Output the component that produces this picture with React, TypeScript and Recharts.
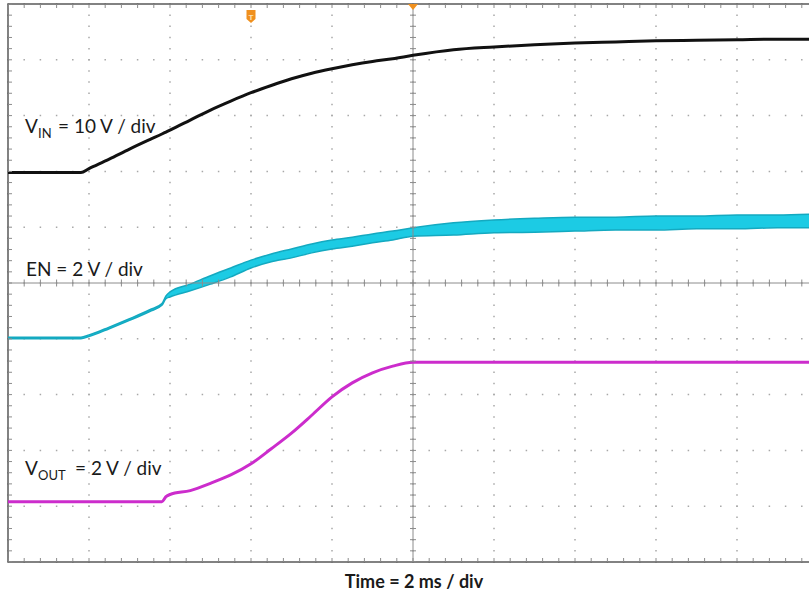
import React from 'react';
import {
  ComposedChart,
  Line,
  Area,
  Scatter,
  XAxis,
  YAxis,
  CartesianGrid,
  ReferenceLine,
  ReferenceArea,
  ReferenceDot,
} from 'recharts';

// time in ms (2 ms / div, 10 divisions), values in screen divisions
const time = [0, 1, 1.8, 2, 2.5, 3, 3.5, 3.8, 3.9, 4, 4.5, 5, 5.5, 6, 6.5, 7, 7.5, 8, 8.5, 9, 9.5, 10, 11, 12, 13, 14, 15, 16, 17, 18, 19, 20];

const vin = [6.98, 6.98, 6.98, 7.05, 7.22, 7.4, 7.57, 7.67, 7.705, 7.74, 7.92, 8.1, 8.26, 8.41, 8.54, 8.66, 8.76, 8.84, 8.91, 8.97, 9.02, 9.08, 9.18, 9.23, 9.27, 9.3, 9.32, 9.34, 9.35, 9.36, 9.37, 9.37];

const enLow = [4.0, 4.0, 4.0, 4.04, 4.18, 4.33, 4.49, 4.6, 4.72, 4.75, 4.86, 4.98, 5.11, 5.27, 5.38, 5.45, 5.54, 5.61, 5.66, 5.72, 5.77, 5.84, 5.86, 5.9, 5.91, 5.93, 5.95, 5.95, 5.97, 5.97, 5.99, 5.99];
const enHigh = [4.03, 4.03, 4.03, 4.07, 4.21, 4.36, 4.52, 4.63, 4.77, 4.84, 4.98, 5.13, 5.27, 5.41, 5.52, 5.61, 5.7, 5.77, 5.82, 5.88, 5.93, 5.99, 6.08, 6.13, 6.16, 6.18, 6.18, 6.2, 6.2, 6.22, 6.22, 6.24];

const vout = [1.08, 1.08, 1.08, 1.08, 1.08, 1.08, 1.08, 1.08, 1.17, 1.21, 1.28, 1.41, 1.56, 1.76, 2.03, 2.31, 2.63, 2.96, 3.21, 3.39, 3.51, 3.58, 3.58, 3.58, 3.58, 3.58, 3.58, 3.58, 3.58, 3.58, 3.58, 3.58];

const xTicks = [0, 2, 4, 6, 8, 10, 12, 14, 16, 18, 20];
const yTicks = [0, 1, 2, 3, 4, 5, 6, 7, 8, 9, 10];

const triggerTime = 6;

const rows = time.map((t, i) => ({ t, vin: vin[i], en: [enLow[i], enHigh[i]], vout: vout[i] }));

// graticule minor ticks (5 per division)
const minorX = Array.from({ length: 51 }, (_, i) => +(i * 0.4).toFixed(2));
const minorY = Array.from({ length: 51 }, (_, i) => +(i * 0.2).toFixed(2));

const GRID = '#8c8c8c';

const tickV = (len: number, dir: number) => (p: any) => (
  <line x1={p.cx} x2={p.cx} y1={dir === 0 ? p.cy - len : p.cy} y2={p.cy + (dir === 0 ? len : dir * len)} stroke={GRID} strokeWidth={1} />
);
const tickH = (len: number, dir: number) => (p: any) => (
  <line y1={p.cy} y2={p.cy} x1={dir === 0 ? p.cx - len : p.cx} x2={p.cx + (dir === 0 ? len : dir * len)} stroke={GRID} strokeWidth={1} />
);

const TriggerMark = (p: any) => (
  <g>
    <path d={`M${p.cx - 4.5} ${p.cy + 6} h9 v9 l-4.5 4 l-4.5 -4 z`} fill="#f0901e" />
    <text x={p.cx} y={p.cy + 16} fontSize={8} fontFamily="Roboto" fontWeight="bold" fill="#fde2b8" textAnchor="middle">T</text>
  </g>
);
const PositionMark = (p: any) => (
  <path d={`M${p.cx - 5} ${p.cy} h10 l-5 6 z`} fill="#f0901e" />
);

export default function App() {
  return (
    <div style={{ position: 'absolute', left: 0, top: 0, width: 809, height: 598, overflow: 'hidden', background: '#fff' }}>
      <ComposedChart width={822} height={598} data={rows} margin={{ top: 4, right: 4, bottom: 36, left: 8 }}>
        <XAxis dataKey="t" type="number" domain={[0, 20]} ticks={xTicks} allowDataOverflow hide />
        <YAxis type="number" domain={[0, 10]} ticks={yTicks} allowDataOverflow hide />
        <CartesianGrid horizontal={false} stroke="#a8a8a8" strokeWidth={1.5} strokeDasharray="1.5 9.66" strokeDashoffset={0.75} />
        <CartesianGrid vertical={false} stroke="#a8a8a8" strokeWidth={1.5} strokeDasharray="1.5 14.7" strokeDashoffset={0.75} />
        <ReferenceLine x={10} stroke={GRID} strokeWidth={1} />
        <ReferenceLine y={5} stroke={GRID} strokeWidth={1} />
        <Scatter data={minorX.map((t) => ({ t, v: 5 }))} dataKey="v" shape={tickV(3.5, 0)} isAnimationActive={false} />
        <Scatter data={minorY.map((v) => ({ t: 10, v }))} dataKey="v" shape={tickH(3, 0)} isAnimationActive={false} />
        <Scatter data={minorX.map((t) => ({ t, v: 0 }))} dataKey="v" shape={tickV(4, -1)} isAnimationActive={false} />
        <Scatter data={minorX.map((t) => ({ t, v: 10 }))} dataKey="v" shape={tickV(4, 1)} isAnimationActive={false} />
        <Scatter data={minorY.map((v) => ({ t: 0, v }))} dataKey="v" shape={tickH(4, 1)} isAnimationActive={false} />
        <ReferenceArea x1={0} x2={20} y1={0} y2={10} fill="none" stroke="#5a5a5a" strokeWidth={1.5} ifOverflow="visible" />
        <Area type="monotone" dataKey="en" stroke="#14a9c0" strokeWidth={1.5} fill="#1ccbe4" fillOpacity={1} dot={false} activeDot={false} isAnimationActive={false} />
        <Line type="monotone" dataKey="vin" stroke="#111111" strokeWidth={3} dot={false} activeDot={false} isAnimationActive={false} />
        <Line type="monotone" dataKey="vout" stroke="#cc2ccc" strokeWidth={3} dot={false} activeDot={false} isAnimationActive={false} />
        <ReferenceDot x={triggerTime} y={10} r={0} shape={TriggerMark} ifOverflow="visible" />
        <ReferenceDot x={10} y={10} r={0} shape={PositionMark} ifOverflow="visible" />
      </ComposedChart>
      <svg width={809} height={598} style={{ position: 'absolute', left: 0, top: 0, pointerEvents: 'none' }}>
        <g fontFamily="Lato" fill="#1a1a1a">
          <text y={133} fontSize={19}>
            <tspan x={25}>V</tspan>
            <tspan x={38} dy={5} fontSize={13}>IN</tspan>
            <tspan x={58} dy={-5}>= 10 V / div</tspan>
          </text>
          <text x={26} y={276} fontSize={19}>EN = 2 V / div</text>
          <text y={475} fontSize={19}>
            <tspan x={25}>V</tspan>
            <tspan x={38} dy={5} fontSize={13}>OUT</tspan>
            <tspan x={75} dy={-5}>= 2 V / div</tspan>
          </text>
          <text x={414} y={588} fontSize={18} fontWeight="bold" textAnchor="middle">Time = 2 ms / div</text>
        </g>
      </svg>
    </div>
  );
}
